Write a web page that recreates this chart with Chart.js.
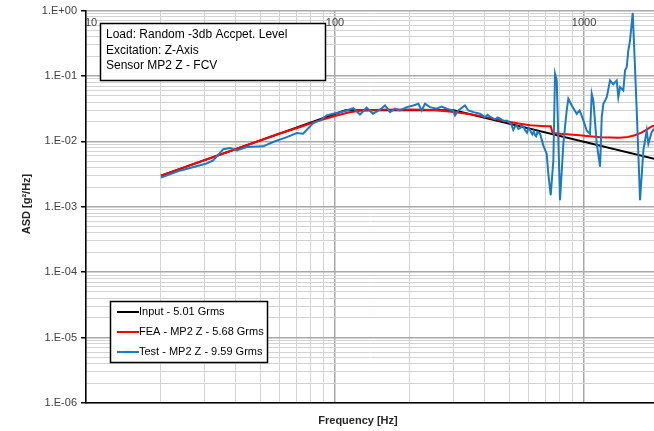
<!DOCTYPE html>
<html lang="en">
<head>
  <meta charset="UTF-8" />
  <title>ASD - Sensor MP2 Z</title>
  <script src="https://cdn.jsdelivr.net/npm/chart.js"></script>
  <style>
    body { margin: 0; background: #fff; }
    .grafico { position: relative; width: 654px; height: 431px; }
  </style>
</head>
<body>
  <div class="grafico"><canvas id="grafico"></canvas></div>

  <script>
    // dados (Hz, g2/Hz)
    const inputFreq = [20, 110, 300, 2000];
    const inputAsd = [0.003, 0.03, 0.03, 0.0052];

    const feaFreq = [20, 30, 40, 50, 60, 72, 85, 100, 112, 125, 150, 200, 250, 300, 350, 406, 460, 553, 607, 700, 735, 748, 801, 958, 1160, 1395, 1500, 1602, 1700, 1765, 1850, 1910];
    const feaAsd = [0.003, 0.0052, 0.00765, 0.0103, 0.0132, 0.0165, 0.0205, 0.0245, 0.0275, 0.0295, 0.0306, 0.0308, 0.0303, 0.0282, 0.026, 0.0235, 0.021, 0.0186, 0.0176, 0.0171, 0.017, 0.0134, 0.0131, 0.0124, 0.0116, 0.0114, 0.0117, 0.0124, 0.0136, 0.0147, 0.0165, 0.0176];

    const testFreq = [20, 24, 30.5, 32.4, 35.6, 37.9, 40.3, 44.2, 51.5, 56.4,
      64, 70.2, 74.4, 81.8, 87.1, 92.6, 98.2, 104.7, 111.4, 118.5,
      126, 134, 142, 151.6, 158.8, 166.3, 174.2, 182.4, 194.1, 206.3,
      216.1, 222.9, 229.8, 240.7, 256.1, 268, 280.9, 298.6, 303.3, 312.7,
      332.7, 343, 360, 382, 391, 400, 410, 419, 430, 440,
      450, 460, 470, 480, 490, 500, 510, 520, 528, 536,
      545, 555, 562, 570, 580, 590, 598, 607, 613, 620,
      628, 636, 643, 650, 666, 686, 708, 719, 735, 753,
      765, 777, 801, 826, 852, 865, 893, 935, 960, 994,
      1025, 1057, 1074, 1090, 1125, 1160, 1178, 1196, 1234, 1272,
      1311, 1353, 1373, 1395, 1438, 1461, 1484, 1506, 1530, 1569,
      1602, 1628, 1679, 1731, 1786, 1813, 1871, 1910];
    const testAsd = [0.0028, 0.0036, 0.0046, 0.0051, 0.0076, 0.0079, 0.0073, 0.0082, 0.0084, 0.0098,
      0.0116, 0.0134, 0.0131, 0.019, 0.0209, 0.0249, 0.0265, 0.028, 0.0297, 0.0322,
      0.0258, 0.0327, 0.0265, 0.0305, 0.0354, 0.028, 0.0316, 0.0297, 0.0334, 0.0354,
      0.0376, 0.0297, 0.0376, 0.0334, 0.0316, 0.034, 0.0316, 0.0297, 0.0249, 0.0297,
      0.0354, 0.0297, 0.028, 0.0265, 0.025, 0.0235, 0.0255, 0.024, 0.0225, 0.0218,
      0.0232, 0.0222, 0.0212, 0.0205, 0.0208, 0.0195, 0.0185, 0.015, 0.0168, 0.0175,
      0.0155, 0.016, 0.0172, 0.017, 0.0148, 0.0135, 0.016, 0.015, 0.0138, 0.0128,
      0.0142, 0.0124, 0.012, 0.014, 0.0131, 0.0087, 0.0065, 0.0032, 0.0015, 0.0051,
      0.108, 0.0854, 0.00126, 0.0092, 0.0297, 0.0449, 0.0354, 0.0265, 0.0297, 0.021,
      0.0147, 0.0131, 0.0535, 0.0423, 0.0092, 0.0041, 0.0236, 0.0376, 0.0475, 0.0854,
      0.075, 0.0854, 0.0475, 0.0675, 0.06, 0.121, 0.136, 0.245, 0.348, 0.922,
      0.136, 0.0297, 0.00126, 0.0073, 0.0147, 0.0092, 0.0139, 0.0156];

    const seriesLabels = ['Input - 5.01 Grms', 'FEA - MP2 Z - 5.68 Grms', 'Test - MP2 Z - 9.59 Grms'];
    const xTickLabels = [10, 100, 1000];
    const noteLines = ['Load: Random -3db Accpet. Level', 'Excitation: Z-Axis', 'Sensor MP2 Z - FCV'];

    const fonte = '"Liberation Sans", Arial, sans-serif';
    Chart.defaults.font.family = fonte;

    function pontos(fs, vs) {
      return fs.map((f, i) => ({ x: f, y: vs[i] }));
    }

    function ehDecada(v) {
      const l = Math.log10(v);
      return Math.abs(l - Math.round(l)) < 1e-6;
    }

    function gerarTicks(min, max) {
      const t = [];
      for (let e = Math.floor(Math.log10(min)); e <= Math.ceil(Math.log10(max)); e++) {
        for (let m = 1; m <= 9; m++) {
          const v = m * Math.pow(10, e);
          if (v >= min * 0.9999 && v <= max * 1.0001) t.push({ value: v });
        }
      }
      return t;
    }

    function formatarExp(v) {
      const e = Math.round(Math.log10(v));
      return '1.E' + (e < 0 ? '-' : '+') + String(Math.abs(e)).padStart(2, '0');
    }

    const grade = {
      color: c => c.tick && ehDecada(c.tick.value) ? '#a8a8a8' : '#d3d3d3',
      lineWidth: c => c.tick && ehDecada(c.tick.value) ? 1.5 : 1
    };

    // caixas de texto, legenda e titulos dos eixos
    const caixas = {
      id: 'caixas',
      afterDatasetsDraw(chart) {
        const ctx = chart.ctx;
        const sx = chart.scales.x;
        const area = chart.chartArea;
        ctx.save();

        ctx.font = '11px ' + fonte;
        ctx.fillStyle = '#404040';
        ctx.textAlign = 'center';
        ctx.textBaseline = 'middle';
        xTickLabels.forEach(v => {
          const px = Math.max(sx.getPixelForValue(v), area.left + 5);
          ctx.fillText(String(v), px, 23);
        });

        // caixa de observacoes
        ctx.fillStyle = '#fff';
        ctx.fillRect(100, 23, 225, 57);
        ctx.strokeStyle = '#000';
        ctx.lineWidth = 1.5;
        ctx.strokeRect(100.5, 23.5, 225, 57);
        ctx.font = '12px ' + fonte;
        ctx.fillStyle = '#000';
        ctx.textAlign = 'left';
        noteLines.forEach((t, i) => ctx.fillText(t, 106, 35 + i * 15.5));

        // legenda
        ctx.fillStyle = '#fff';
        ctx.fillRect(110, 301, 157, 61);
        ctx.strokeRect(110.5, 301.5, 157, 61);
        ctx.font = '11px ' + fonte;
        chart.data.datasets.forEach((ds, i) => {
          const y = 312 + i * 20;
          ctx.strokeStyle = ds.borderColor;
          ctx.lineWidth = 2;
          ctx.beginPath();
          ctx.moveTo(117, y);
          ctx.lineTo(139, y);
          ctx.stroke();
          ctx.fillStyle = '#000';
          ctx.fillText(ds.label, 139, y);
        });

        // titulos
        ctx.font = 'bold 11px ' + fonte;
        ctx.fillStyle = '#262626';
        ctx.textAlign = 'center';
        ctx.fillText('Frequency [Hz]', 358, 421);
        ctx.translate(27, 204);
        ctx.rotate(-Math.PI / 2);
        ctx.fillText('ASD [g\u00B2/Hz]', 0, 0);

        ctx.restore();
      }
    };

    new Chart(document.getElementById('grafico'), {
      type: 'line',
      data: {
        datasets: [
          { label: seriesLabels[0], data: pontos(inputFreq, inputAsd), borderColor: '#000000', borderWidth: 2, pointRadius: 0, order: 3 },
          { label: seriesLabels[1], data: pontos(feaFreq, feaAsd), borderColor: '#ff0000', borderWidth: 2, pointRadius: 0, order: 2 },
          { label: seriesLabels[2], data: pontos(testFreq, testAsd), borderColor: '#1a7ac6', borderWidth: 2, pointRadius: 0, order: 1 }
        ]
      },
      options: {
        responsive: true,
        maintainAspectRatio: false,
        animation: false,
        layout: { padding: { left: 0, top: 10, right: 0, bottom: 0 } },
        plugins: {
          legend: { display: false },
          tooltip: { enabled: false }
        },
        scales: {
          x: {
            type: 'logarithmic',
            min: 10,
            max: 1910,
            afterBuildTicks: s => { s.ticks = gerarTicks(s.min, s.max); },
            afterFit: s => { s.height = 28; },
            ticks: { display: false },
            grid: { ...grade, drawTicks: false },
            border: { color: '#000', width: 1.5 }
          },
          y: {
            type: 'logarithmic',
            min: 1e-6,
            max: 1,
            afterBuildTicks: s => { s.ticks = gerarTicks(s.min, s.max); },
            afterFit: s => { s.width = 86; },
            ticks: {
              autoSkip: false,
              padding: 4,
              color: '#404040',
              font: { size: 11 },
              callback: v => ehDecada(v) ? formatarExp(v) : ''
            },
            grid: {
              ...grade,
              tickLength: 5,
              tickColor: c => c.tick && ehDecada(c.tick.value) ? '#000' : 'rgba(0,0,0,0)'
            },
            border: { color: '#000', width: 1.5 }
          }
        }
      },
      plugins: [caixas]
    });
  </script>
</body>
</html>
